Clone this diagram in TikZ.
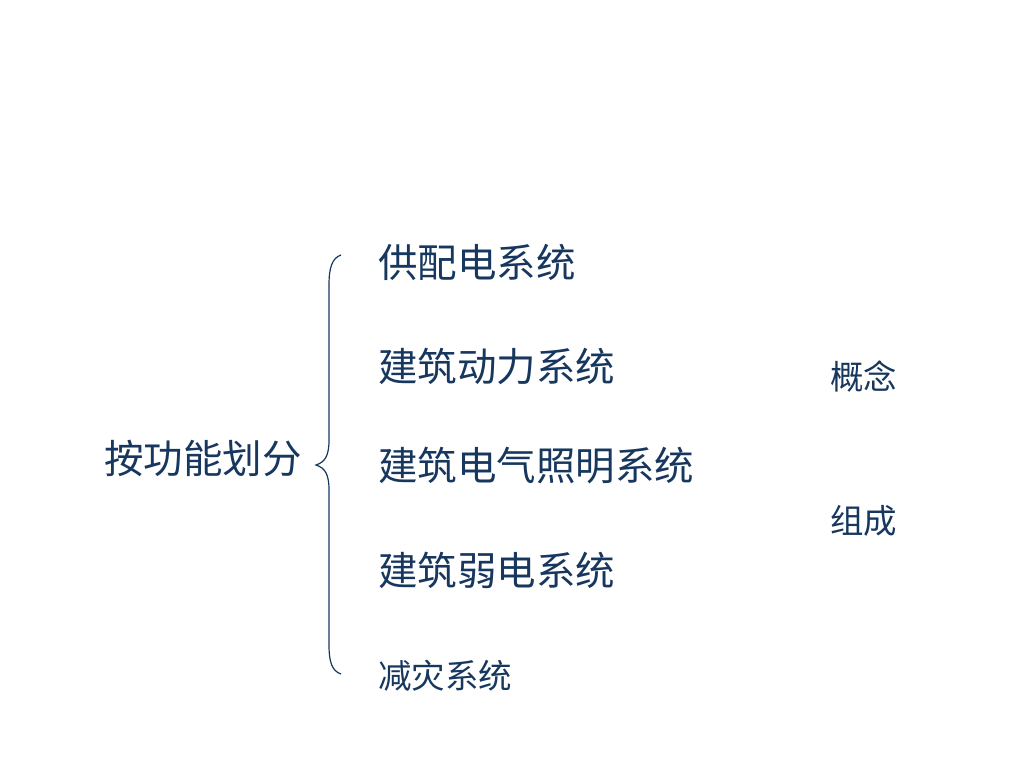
\documentclass[tikz,border=0pt]{standalone}
\usepackage{fontspec}
\newfontfamily\cjk{Noto Sans CJK SC}
\definecolor{txtblue}{HTML}{17375E}

\begin{document}
\begin{tikzpicture}[
  x=1pt,
  y=-1pt,
  big/.style={anchor=west, inner sep=0pt, text=txtblue, font=\cjk\fontsize{39.5}{46}\selectfont},
  small/.style={anchor=west, inner sep=0pt, text=txtblue, font=\cjk\fontsize{33.5}{40}\selectfont},
  bracket/.style={draw=txtblue, line width=1.2pt}
]
\useasboundingbox (0,0) rectangle (1024,768);

\node[big] (func) at (104,458) {按功能划分};

\node[big]   (supply)   at (378,262) {供配电系统};
\node[big]   (power)    at (378,366) {建筑动力系统};
\node[big]   (light)    at (378,466) {建筑电气照明系统};
\node[big]   (weak)     at (378,570) {建筑弱电系统};
\node[small] (disaster) at (378,676) {减灾系统};

\node[small] (concept) at (830,377) {概念};
\node[small] (compose) at (830,521) {组成};

% left brace
\coordinate (bracetop) at (341,255);
\coordinate (bracetip) at (316,465);
\coordinate (bracebot) at (341,674);
\draw[bracket] (bracetop) .. controls (332,258) and (329,268) .. (329,285)
  -- (329,440) .. controls (329,456) and (325,462) .. (bracetip)
  .. controls (325,468) and (329,474) .. (329,490)
  -- (329,645) .. controls (329,662) and (332,671) .. (bracebot);
\end{tikzpicture}
\end{document}
